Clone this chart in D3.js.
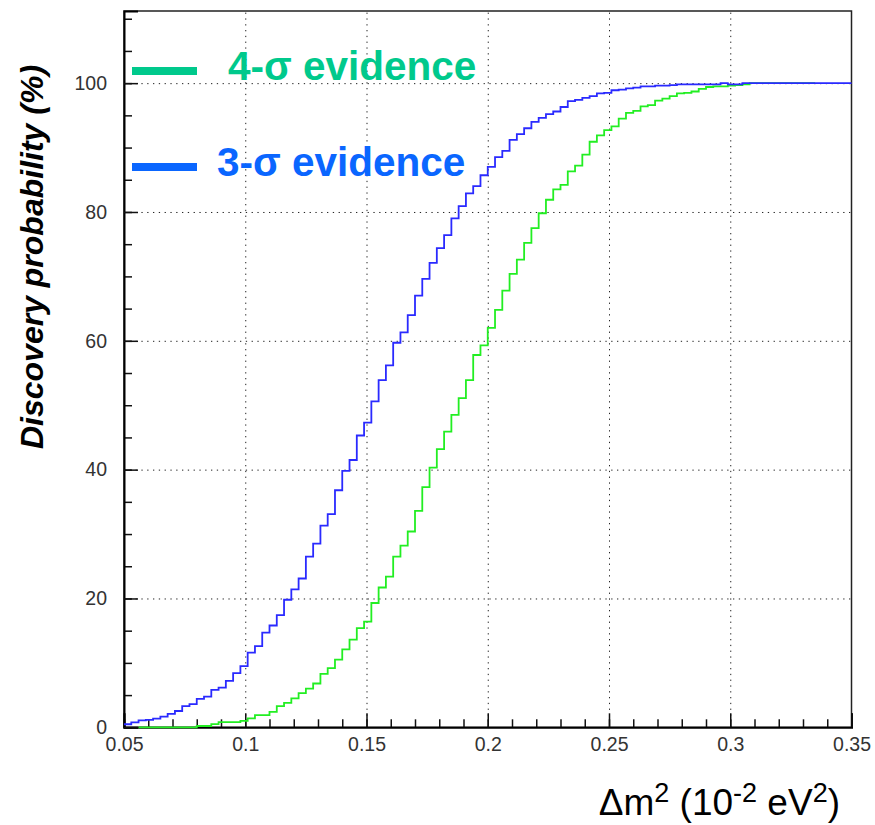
<!DOCTYPE html>
<html>
<head>
<meta charset="utf-8">
<script src="https://cdn.jsdelivr.net/npm/d3@7"></script>
<style>
  body { margin: 0; background: #fff; }
  svg { display: block; font-family: "Liberation Sans", Arial, sans-serif; }
</style>
</head>
<body>
<div id="container"></div>
<script>
// histogram binning: 100 bins from 0.05 to 0.35
const binLow = 0.05
const binWidth = 0.003

// discovery probability (%) per bin, 3-sigma evidence
const blueValues = [
    0.47, 0.78, 1.09, 1.14, 1.35, 1.65, 2.07, 2.53, 3.3, 3.6,
    4.4, 4.75, 5.8, 6.15, 7.2, 8.4, 9.5, 11.6, 12.6, 14.7,
    15.8, 17.4, 19.8, 21.4, 23.1, 26.5, 28.5, 31.3, 33.1, 36.8,
    39.8, 41.5, 45.3, 47.3, 50.6, 53.9, 56.2, 59.7, 61.3, 64.0,
    67.0, 69.6, 72.1, 74.4, 76.4, 79.0, 80.9, 82.9, 84.0, 85.7,
    87.0, 88.5, 89.5, 91.2, 92.1, 93.0, 94.0, 94.6, 95.2, 95.6,
    96.3, 97.2, 97.4, 97.7, 98.0, 98.4, 98.5, 98.9, 99.0, 99.2,
    99.3, 99.5, 99.5, 99.6, 99.6, 99.7, 99.8, 99.8, 99.8, 99.8,
    99.8, 99.8, 100, 99.8, 99.8, 100, 100, 100, 100, 100,
    100, 100, 100, 100, 100, 100, 100, 100, 100, 100
]

// 4-sigma evidence (null = bin not drawn)
const greenValues = [
    null, null, 0, 0, 0, 0, 0, 0, 0, 0,
    0.2, 0.2, 0.5, 0.8, 0.8, 0.8, 1.0, 1.4, 1.9, 1.9,
    2.4, 3.3, 3.8, 4.5, 5.3, 6.0, 6.8, 8.3, 9.2, 10.5,
    12.1, 13.6, 15.4, 16.4, 19.3, 21.7, 23.4, 26.5, 28.2, 30.4,
    33.6, 37.3, 40.3, 43.2, 45.9, 48.5, 51.1, 53.9, 57.8, 59.3,
    62.0, 64.8, 67.8, 70.4, 72.6, 75.2, 77.5, 79.8, 81.9, 83.5,
    84.2, 86.3, 87.2, 88.9, 90.9, 91.9, 92.7, 93.3, 94.5, 95.4,
    95.7, 96.4, 96.6, 97.3, 97.6, 98.0, 98.4, 98.5, 98.7, 99.1,
    99.4, 99.5, 99.5, 99.6, 99.7, 99.8, 100, 100, 100, 100,
    100, 100, 100, 100, 100, null, null, null, null, null
]

const xMajor = [0.05, 0.1, 0.15, 0.2, 0.25, 0.3, 0.35]
const yMajor = [0, 20, 40, 60, 80, 100]

const legendLabels = ['4-σ evidence', '3-σ evidence']
const legendColors = ['#00c98c', '#0a66ff']

const width = 875
const height = 825
const margin = { top: 11, right: 23.5, bottom: 97.7, left: 124 }

const svg = d3.select('#container').append('svg')
    .attr('width', width).attr('height', height)

const x = d3.scaleLinear().domain([0.05, 0.35])
    .range([margin.left, width - margin.right])
const y = d3.scaleLinear().domain([0, 111.2])
    .range([height - margin.bottom, margin.top])

const plotW = width - margin.left - margin.right
const plotH = height - margin.top - margin.bottom

// dotted grid
svg.append('g')
    .attr('transform', `translate(0, ${height - margin.bottom})`)
    .call(d3.axisBottom(x).tickValues(xMajor.slice(1, -1)).tickSize(-plotH).tickFormat(''))
    .call(g => g.select('.domain').remove())
    .selectAll('line').attr('stroke', '#222').attr('stroke-dasharray', '1.3,4.5')

svg.append('g')
    .attr('transform', `translate(${margin.left}, 0)`)
    .call(d3.axisLeft(y).tickValues(yMajor.slice(1)).tickSize(-plotW).tickFormat(''))
    .call(g => g.select('.domain').remove())
    .selectAll('line').attr('stroke', '#222').attr('stroke-dasharray', '1.3,4.5')

// frame
svg.append('rect')
    .attr('x', margin.left).attr('y', margin.top)
    .attr('width', plotW).attr('height', plotH)
    .attr('fill', 'none').attr('stroke', '#222').attr('stroke-width', 1.5)

// minor ticks
svg.append('g')
    .attr('transform', `translate(0, ${height - margin.bottom})`)
    .call(d3.axisBottom(x).ticks(30).tickSize(-8).tickFormat(''))
    .call(g => g.select('.domain').remove())
    .selectAll('line').attr('stroke', '#111').attr('stroke-width', 1.5)

svg.append('g')
    .attr('transform', `translate(${margin.left}, 0)`)
    .call(d3.axisLeft(y).tickValues(d3.range(0, 111, 5)).tickSize(-8).tickFormat(''))
    .call(g => g.select('.domain').remove())
    .selectAll('line').attr('stroke', '#111').attr('stroke-width', 1.5)

// major ticks + labels
const xAxis = svg.append('g')
    .attr('transform', `translate(0, ${height - margin.bottom})`)
    .call(d3.axisBottom(x).tickValues(xMajor).tickSize(-14).tickPadding(10)
        .tickFormat(d => String(+d.toFixed(2))))
xAxis.select('.domain').attr('stroke', '#000').attr('stroke-width', 2)
xAxis.selectAll('line').attr('stroke', '#111').attr('stroke-width', 1.5)
xAxis.selectAll('text').attr('font-size', 19.5).attr('fill', '#333')
    .attr('font-family', '"Liberation Sans", Arial, sans-serif')

const yAxis = svg.append('g')
    .attr('transform', `translate(${margin.left}, 0)`)
    .call(d3.axisLeft(y).tickValues(yMajor).tickSize(-14).tickPadding(17))
yAxis.select('.domain').attr('stroke', '#000').attr('stroke-width', 2)
yAxis.selectAll('line').attr('stroke', '#111').attr('stroke-width', 1.5)
yAxis.selectAll('text').attr('font-size', 19.5).attr('fill', '#333')
    .attr('font-family', '"Liberation Sans", Arial, sans-serif')

// histograms as step lines
const toSteps = values => {
    const pts = []
    values.forEach((v, i) => {
        if (v === null) return
        pts.push([binLow + i * binWidth, v])
        pts.push([binLow + (i + 1) * binWidth, v])
    })
    return pts
}

const line = d3.line().x(d => x(d[0])).y(d => y(d[1]))

svg.append('path')
    .datum(toSteps(greenValues))
    .attr('d', line)
    .attr('fill', 'none')
    .attr('stroke', '#22ee22')
    .attr('stroke-width', 1.8)

svg.append('path')
    .datum(toSteps(blueValues))
    .attr('d', line)
    .attr('fill', 'none')
    .attr('stroke', '#2a2aff')
    .attr('stroke-width', 1.8)

// legend
const legendY = [71, 167]
const legendTextX = [228, 217]
const legend = svg.append('g')
legend.selectAll('line')
    .data(legendLabels)
    .enter()
    .append('line')
    .attr('x1', 132).attr('x2', 197)
    .attr('y1', (d, i) => legendY[i]).attr('y2', (d, i) => legendY[i])
    .attr('stroke', (d, i) => legendColors[i])
    .attr('stroke-width', 8)
legend.selectAll('text')
    .data(legendLabels)
    .enter()
    .append('text')
    .attr('x', (d, i) => legendTextX[i])
    .attr('y', (d, i) => legendY[i] + 9)
    .attr('fill', (d, i) => legendColors[i])
    .attr('font-size', 40.5)
    .attr('font-weight', 'bold')
    .text(d => d)

// axis titles
svg.append('text')
    .attr('transform', 'translate(43, 257) rotate(-90)')
    .attr('text-anchor', 'middle')
    .attr('font-size', 32)
    .attr('font-weight', 'bold')
    .attr('font-style', 'italic')
    .text('Discovery probability (%)')

const xt = svg.append('text')
    .attr('x', 840).attr('y', 815)
    .attr('text-anchor', 'end')
    .attr('font-size', 37)
xt.append('tspan').text('Δm')
xt.append('tspan').attr('font-size', 27).attr('dy', -13).text('2')
xt.append('tspan').attr('dy', 13).text(' (10')
xt.append('tspan').attr('font-size', 27).attr('dy', -13).text('-2')
xt.append('tspan').attr('dy', 13).text(' eV')
xt.append('tspan').attr('font-size', 27).attr('dy', -13).text('2')
xt.append('tspan').attr('dy', 13).text(')')
</script>
</body>
</html>
